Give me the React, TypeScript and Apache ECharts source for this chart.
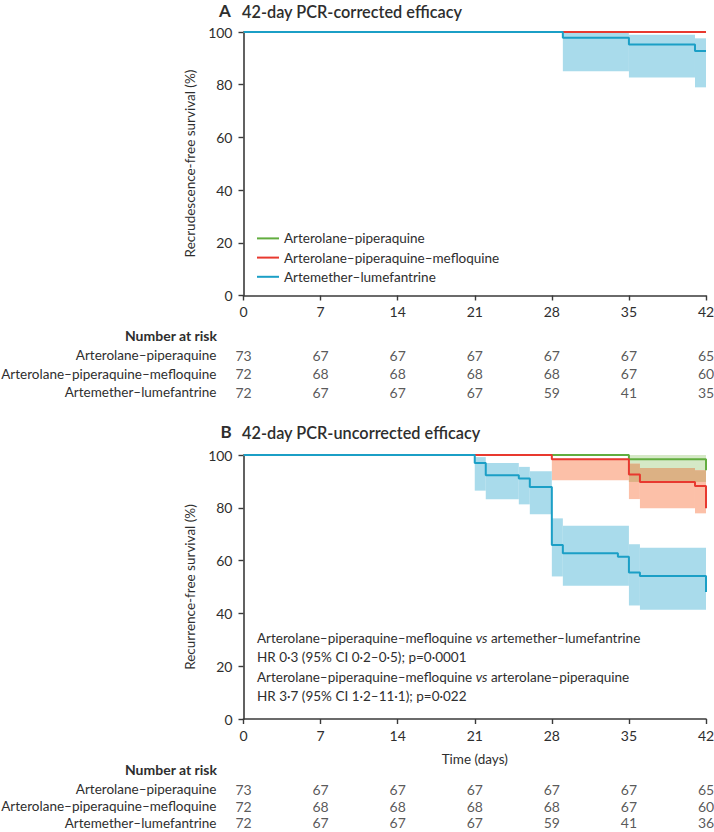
import React, { useEffect, useRef } from "react";
import * as echarts from "echarts";

const FONT = 'Lato, "Noto Sans", sans-serif';
const TXT = "#2e2e2e";
const AX = "#3a3a3a";
const FS = 13.5;

// ---------- data ----------
const dayTicks = [0, 7, 14, 21, 28, 35, 42];
const groups = ["Arterolane–piperaquine", "Arterolane–piperaquine–mefloquine", "Artemether–lumefantrine"];

// Panel A: PCR-corrected (step points [day, %])
const kmA_AP = [[0, 100], [42, 100]];
const kmA_APM = [[0, 100], [42, 100]];
const kmA_AL = [[0, 100], [29, 97.8], [35, 95.3], [41, 92.8], [42, 92.8]];
// CI bands [fromDay, toDay, lower, upper]
const ciA_AL = [[29, 35, 85.1, 100], [35, 41, 82.7, 99], [41, 42, 79, 97.6]];

// Panel B: PCR-uncorrected
const kmB_AP = [[0, 100], [35, 98.4], [42, 94.2]];
const kmB_APM = [[0, 100], [28, 98.4], [35, 92.6], [36, 89.8], [41, 88.3], [42, 79.8]];
const kmB_AL = [[0, 100], [21, 97], [22, 92.3], [25, 91.1], [26, 87.9], [28, 65.9], [29, 62.8], [34, 61.5], [35, 55.5], [36, 54.2], [42, 48.1]];
const ciB_AP = [[35, 42, 89.8, 100]];
const ciB_APM = [[28, 35, 90.4, 98.6], [35, 36, 83.3, 96.7], [36, 41, 79.8, 95.1], [41, 42, 77.9, 94.2]];
const ciB_AL = [[21, 22, 86.5, 99.2], [22, 25, 83.2, 97], [25, 26, 81.3, 95.5], [26, 28, 77.6, 93.8], [28, 29, 54, 76], [29, 35, 50.5, 73.2], [35, 36, 43, 66.2], [36, 42, 41.4, 64.9]];

// Number at risk
const riskA_AP = [73, 67, 67, 67, 67, 67, 65];
const riskA_APM = [72, 68, 68, 68, 68, 67, 60];
const riskA_AL = [72, 67, 67, 67, 59, 41, 35];
const riskB_AP = [73, 67, 67, 67, 67, 67, 65];
const riskB_APM = [72, 68, 68, 68, 68, 67, 60];
const riskB_AL = [72, 67, 67, 67, 59, 41, 36];

const COL_AP = "#62ad3f";
const COL_APM = "#e8392f";
const COL_AL = "#1b9fc6";
const FILL_AP = "#d5e9c6";
const FILL_APM = "#fcc0a8";
const FILL_OVR = "#dcb184";
const FILL_AL = "#a9dbeb";

function intersect(a: number[][], b: number[][]) {
  const out: number[][] = [];
  a.forEach((p) => b.forEach((q) => {
    const t0 = Math.max(p[0], q[0]);
    const t1 = Math.min(p[1], q[1]);
    const lo = Math.max(p[2], q[2]);
    const hi = Math.min(p[3], q[3]);
    if (t1 > t0 && hi > lo) out.push([t0, t1, lo, hi]);
  }));
  return out;
}

function band(name: string, gi: number, data: number[][], fill: string) {
  return {
    type: "custom",
    name,
    xAxisIndex: gi,
    yAxisIndex: gi,
    data,
    encode: { x: [0, 1], y: [2, 3] },
    silent: true,
    renderItem: (_p: any, api: any) => {
      const a = api.coord([api.value(0), api.value(3)]);
      const b = api.coord([api.value(1), api.value(2)]);
      return {
        type: "rect",
        shape: { x: a[0], y: a[1], width: b[0] - a[0], height: b[1] - a[1] },
        style: { fill },
      };
    },
  };
}

function km(name: string, gi: number, data: number[][], color: string) {
  return {
    type: "line",
    name,
    xAxisIndex: gi,
    yAxisIndex: gi,
    step: "end",
    symbol: "none",
    clip: false,
    data,
    lineStyle: { color, width: 2 },
    itemStyle: { color },
  };
}

function risk(gi: number, rows: number[][]) {
  const data: any[] = [];
  rows.forEach((r, g) => r.forEach((n, i) => data.push([dayTicks[i], groups[g], n])));
  return {
    type: "scatter",
    xAxisIndex: gi,
    yAxisIndex: gi,
    symbolSize: 1,
    itemStyle: { color: "rgba(0,0,0,0)" },
    silent: true,
    data,
    label: {
      show: true,
      position: "inside",
      formatter: (p: any) => String(p.value[2]),
      fontSize: 14,
      fontFamily: FONT,
      color: TXT,
    },
  };
}

const PL = 243.5;
const PW = 462.5;

function plotX(gi: number, withName: boolean) {
  return {
    type: "value",
    gridIndex: gi,
    min: 0,
    max: 42,
    interval: 7,
    axisLine: { show: true, lineStyle: { color: AX, width: 1.6 } },
    axisTick: { show: true, length: 5, lineStyle: { color: AX, width: 1.4 } },
    axisLabel: { margin: 9, fontSize: 14, color: TXT, fontFamily: FONT },
    splitLine: { show: false },
    name: withName ? "Time (days)" : "",
    nameLocation: "middle",
    nameGap: 33,
    nameTextStyle: { fontSize: FS, color: TXT, fontFamily: FONT },
  };
}
function plotY(gi: number) {
  return {
    type: "value",
    gridIndex: gi,
    min: 0,
    max: 100,
    interval: 20,
    axisLine: { show: true, lineStyle: { color: AX, width: 1.6 } },
    axisTick: { show: true, length: 5, lineStyle: { color: AX, width: 1.4 } },
    axisLabel: { margin: 11, fontSize: 14, color: TXT, fontFamily: FONT },
    splitLine: { show: false },
  };
}
function riskX(gi: number) {
  return { type: "value", gridIndex: gi, min: 0, max: 42, show: false };
}
function riskY(gi: number) {
  return {
    type: "category",
    gridIndex: gi,
    data: groups,
    inverse: true,
    axisLine: { show: false },
    axisTick: { show: false },
    splitLine: { show: false },
    axisLabel: { interval: 0, margin: 27, fontSize: FS, color: TXT, fontFamily: FONT },
  };
}

function txt(x: number, y: number, text: string, extra: any = {}) {
  return {
    type: "text",
    x,
    y,
    silent: true,
    style: {
      text,
      fontSize: FS,
      fontFamily: FONT,
      fill: TXT,
      align: "left",
      verticalAlign: "middle",
      textAlign: "left",
      textVerticalAlign: "middle",
      ...extra,
    },
  };
}

export default function App() {
  const ref = useRef<HTMLDivElement>(null);
  useEffect(() => {
    if (!ref.current) return;
    const chart = echarts.init(ref.current, null, { renderer: "svg" });
    const grids = [
      { left: PL, top: 32, width: PW, height: 263.5 },
      { left: PL, top: 345.7, width: PW, height: 56 },
      { left: PL, top: 455, width: PW, height: 264 },
      { left: PL, top: 781, width: PW, height: 50 },
    ].map((g) => ({ ...g, containLabel: false, outerBoundsMode: "none" }));

    const ovr = intersect(ciB_AP, ciB_APM);
    const nameRich = {
      n: { fontSize: FS, fontFamily: FONT, fill: TXT, lineHeight: 19.2 },
      i: { fontSize: FS, fontFamily: FONT, fill: TXT, fontStyle: "italic", lineHeight: 19.2 },
    };

    const option: any = {
      animation: false,
      textStyle: { fontFamily: FONT },
      grid: grids,
      xAxis: [plotX(0, false), riskX(1), plotX(2, true), riskX(3)],
      yAxis: [plotY(0), riskY(1), plotY(2), riskY(3)],
      legend: {
        data: groups,
        orient: "vertical",
        left: 252,
        top: 223.8,
        icon: "rect",
        itemWidth: 22,
        itemHeight: 2,
        itemGap: 0,
        selectedMode: false,
        textStyle: { fontSize: FS, color: TXT, fontFamily: FONT, lineHeight: 19.2 },
      },
      series: [
        band("ci-A-AL", 0, ciA_AL, FILL_AL),
        band("ci-B-AP", 2, ciB_AP, FILL_AP),
        band("ci-B-APM", 2, ciB_APM, FILL_APM),
        band("ci-B-overlap", 2, ovr, FILL_OVR),
        band("ci-B-AL", 2, ciB_AL, FILL_AL),
        km(groups[0], 0, kmA_AP, COL_AP),
        km(groups[1], 0, kmA_APM, COL_APM),
        km(groups[2], 0, kmA_AL, COL_AL),
        km(groups[0], 2, kmB_AP, COL_AP),
        km(groups[1], 2, kmB_APM, COL_APM),
        km(groups[2], 2, kmB_AL, COL_AL),
        risk(1, [riskA_AP, riskA_APM, riskA_AL]),
        risk(3, [riskB_AP, riskB_APM, riskB_AL]),
      ],
      graphic: [
        txt(219, 10, "A", { fontSize: 17, fontWeight: "bold" }),
        txt(242, 11, "42-day PCR-corrected efficacy", { fontSize: 16.3, fontWeight: 600 }),
        txt(220.5, 431.5, "B", { fontSize: 17, fontWeight: "bold" }),
        txt(242, 432, "42-day PCR-uncorrected efficacy", { fontSize: 16.3, fontWeight: 600 }),
        txt(217, 335.7, "Number at risk", { fontSize: 14, fontWeight: "bold", align: "right", textAlign: "right" }),
        txt(217, 769.3, "Number at risk", { fontSize: 14, fontWeight: "bold", align: "right", textAlign: "right" }),
        {
          ...txt(190, 163.5, "Recrudescence-free survival (%)", { align: "center", textAlign: "center" }),
          rotation: Math.PI / 2,
        },
        {
          ...txt(190, 587, "Recurrence-free survival (%)", { align: "center", textAlign: "center" }),
          rotation: Math.PI / 2,
        },
        {
          type: "text",
          x: 257,
          y: 628.7,
          silent: true,
          style: {
            text:
              "{n|Arterolane–piperaquine–mefloquine }{i|vs}{n| artemether–lumefantrine}\n" +
              "{n|HR 0·3 (95% CI 0·2–0·5); p=0·0001}\n" +
              "{n|Arterolane–piperaquine–mefloquine }{i|vs}{n| arterolane–piperaquine}\n" +
              "{n|HR 3·7 (95% CI 1·2–11·1); p=0·022}",
            rich: nameRich,
            fontSize: FS,
            fontFamily: FONT,
            fill: TXT,
            lineHeight: 19.2,
            align: "left",
            verticalAlign: "top",
            textAlign: "left",
            textVerticalAlign: "top",
          },
        },
      ],
    };
    chart.setOption(option);
    return () => chart.dispose();
  }, []);
  return (
    <div
      ref={ref}
      style={{ position: "absolute", left: 0, top: 0, width: 714, height: 832, background: "#fff" }}
    />
  );
}
